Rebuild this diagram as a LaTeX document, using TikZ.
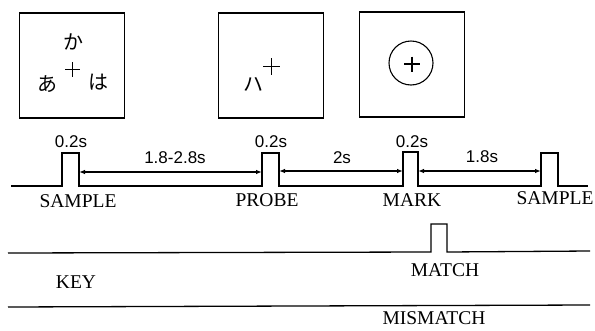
\documentclass[tikz,border=0pt]{standalone}
\usepackage{fontspec}
\setmainfont{Liberation Serif}
\newfontfamily\durfont{Liberation Sans}
\newfontfamily\jpfont{Noto Sans CJK JP}
\usetikzlibrary{arrows.meta, positioning}

\begin{document}
\begin{tikzpicture}[x=1pt,y=-1pt,>={Latex[length=6pt,width=4.5pt]},line width=1.3pt,
  lbl/.style={font=\fontsize{19.5}{19.5}\selectfont, inner sep=0pt},
  dur/.style={font=\durfont\fontsize{17}{17}\selectfont, inner sep=0pt},
  kana/.style={font=\jpfont\fontsize{20}{20}\selectfont, inner sep=0pt},
  screen/.style={draw, minimum width=105pt, minimum height=105pt, inner sep=0pt},
  gap/.style={<->, line width=1.1pt}]
  \useasboundingbox (0,0) rectangle (595,330);
  % ---- top: the three screens ----
  \node[screen] (scrA) at (72,65.5) {};
  \node[kana] (ka) at (73,42) {か};
  \node[kana] (a) at (47,84) {あ};
  \node[kana] (ha) at (98,82) {は};
  \draw[line width=1.7pt] (65,69.5) -- (80,69.5) (72.5,62) -- (72.5,77);
  \node[screen] (scrB) at (271,65.5) {};
  \node[kana] (hachi) at (253,85) {ハ};
  \draw[line width=1.7pt] (263,66.5) -- (280,66.5) (271.5,58) -- (271.5,75);
  \node[screen] (scrC) at (412,64.5) {};
  \node[draw, circle, minimum size=44pt, inner sep=0pt, line width=1.1pt] (ring) at (411,63) {};
  \draw (404,64) -- (420,64) (412,56.5) -- (412,71.5);
  % ---- middle: stimulus line ----
  \draw (11,186) -- (62,186) -- (62,153) -- (79,153) -- (79,186)
        -- (262,186) -- (262,153) -- (279,153) -- (279,186)
        -- (403,186) -- (403,152) -- (418,152) -- (418,186)
        -- (541,186) -- (541,153) -- (558,153) -- (558,186) -- (588,186);
  \coordinate (pA) at (79,172);
  \coordinate (pB) at (262,172);
  \coordinate (pC) at (279,171);
  \coordinate (pD) at (403,171);
  \coordinate (pE) at (418,171);
  \coordinate (pF) at (541,171);
  \draw[gap] (pA) -- (pB);
  \draw[gap] (pC) -- (pD);
  \draw[gap] (pE) -- (pF);
  \foreach \n/\x in {wA/71,wB/271,wC/412} {
    \node[dur] (\n) at (\x,142) {0.2s};
  }
  \node[dur] (dA) at (175,158) {1.8-2.8s};
  \node[dur] (dB) at (342,158) {2s};
  \node[dur] (dC) at (482,157) {1.8s};
  \node[lbl] (sample) at (78,201) {SAMPLE};
  \node[lbl] (probe) at (267,200) {PROBE};
  \node[lbl] (mark) at (412,200) {MARK};
  \node[lbl] (sample2) at (555,198) {SAMPLE};
  % ---- bottom: key lines ----
  \draw (8,253) -- (431,252) -- (431,224) -- (447,224) -- (447,252) -- (590,251);
  \draw (8,307) -- (590,305);
  \node[lbl] (key) at (76,282) {KEY};
  \node[lbl] (match) at (445,270) {MATCH};
  \node[lbl] (mismatch) at (434,318.5) {MISMATCH};
\end{tikzpicture}
\end{document}
